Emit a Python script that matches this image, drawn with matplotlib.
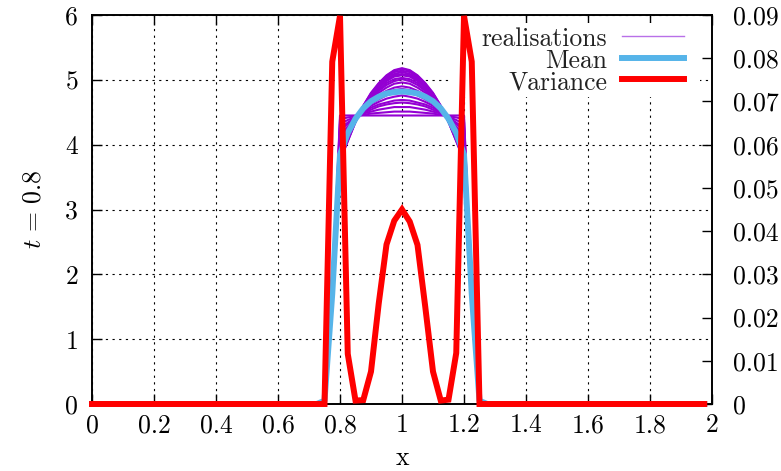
import matplotlib
matplotlib.use("Agg")
import matplotlib.pyplot as plt
import numpy as np

plt.rcParams['font.family'] = 'cmr10'
plt.rcParams['mathtext.fontset'] = 'cm'
plt.rcParams['axes.formatter.use_mathtext'] = True

# grid of the solution, only the pulse region (0.75 .. 1.25) is non zero
x = np.linspace(0.0, 1.975, 80)
i0 = 30  # index of x = 0.75

realisations = [
    [0.05, 1.7, 4.45, 4.45, 4.45, 4.45, 4.45, 4.45, 4.45, 4.45, 4.45, 4.45, 4.45, 4.45, 4.45, 4.45, 4.45, 4.45, 4.45, 1.7, 0.05],
    [0.05, 1.7, 4.39, 4.42, 4.44, 4.46, 4.48, 4.49, 4.50, 4.51, 4.51, 4.51, 4.50, 4.49, 4.48, 4.46, 4.44, 4.42, 4.39, 1.7, 0.05],
    [0.05, 1.7, 4.32, 4.38, 4.43, 4.48, 4.51, 4.54, 4.56, 4.58, 4.58, 4.58, 4.56, 4.54, 4.51, 4.48, 4.43, 4.38, 4.32, 1.7, 0.05],
    [0.05, 1.7, 4.26, 4.34, 4.42, 4.49, 4.54, 4.59, 4.62, 4.64, 4.65, 4.64, 4.62, 4.59, 4.54, 4.49, 4.42, 4.34, 4.26, 1.7, 0.05],
    [0.05, 1.7, 4.22, 4.32, 4.42, 4.50, 4.57, 4.62, 4.65, 4.68, 4.69, 4.68, 4.65, 4.62, 4.57, 4.50, 4.42, 4.32, 4.22, 1.7, 0.05],
    [0.05, 1.7, 4.16, 4.28, 4.41, 4.51, 4.60, 4.66, 4.71, 4.74, 4.76, 4.74, 4.71, 4.66, 4.60, 4.51, 4.41, 4.28, 4.16, 1.7, 0.05],
    [0.05, 1.7, 4.10, 4.25, 4.40, 4.53, 4.63, 4.70, 4.76, 4.80, 4.82, 4.80, 4.76, 4.70, 4.63, 4.53, 4.40, 4.25, 4.10, 1.7, 0.05],
    [0.05, 1.7, 4.06, 4.23, 4.39, 4.53, 4.65, 4.73, 4.80, 4.84, 4.86, 4.84, 4.80, 4.73, 4.65, 4.53, 4.39, 4.23, 4.06, 1.7, 0.05],
    [0.05, 1.7, 4.02, 4.20, 4.39, 4.54, 4.67, 4.76, 4.83, 4.88, 4.90, 4.88, 4.83, 4.76, 4.67, 4.54, 4.39, 4.20, 4.02, 1.7, 0.05],
    [0.05, 1.7, 3.96, 4.17, 4.38, 4.56, 4.70, 4.80, 4.88, 4.94, 4.96, 4.94, 4.88, 4.80, 4.70, 4.56, 4.38, 4.17, 3.96, 1.7, 0.05],
    [0.05, 1.7, 3.92, 4.15, 4.37, 4.56, 4.72, 4.83, 4.92, 4.98, 5.01, 4.98, 4.92, 4.83, 4.72, 4.56, 4.37, 4.15, 3.92, 1.7, 0.05],
    [0.05, 1.7, 3.89, 4.13, 4.37, 4.57, 4.73, 4.85, 4.95, 5.01, 5.03, 5.01, 4.95, 4.85, 4.73, 4.57, 4.37, 4.13, 3.89, 1.7, 0.05],
    [0.05, 1.7, 3.86, 4.11, 4.37, 4.58, 4.75, 4.88, 4.98, 5.05, 5.07, 5.05, 4.98, 4.88, 4.75, 4.58, 4.37, 4.11, 3.86, 1.7, 0.05],
    [0.05, 1.7, 3.83, 4.10, 4.36, 4.58, 4.76, 4.89, 5.00, 5.07, 5.09, 5.07, 5.00, 4.89, 4.76, 4.58, 4.36, 4.10, 3.83, 1.7, 0.05],
    [0.05, 1.7, 3.81, 4.08, 4.36, 4.59, 4.77, 4.91, 5.02, 5.09, 5.12, 5.09, 5.02, 4.91, 4.77, 4.59, 4.36, 4.08, 3.81, 1.7, 0.05],
    [0.05, 1.7, 3.79, 4.07, 4.36, 4.59, 4.78, 4.93, 5.04, 5.12, 5.14, 5.12, 5.04, 4.93, 4.78, 4.59, 4.36, 4.07, 3.79, 1.7, 0.05],
    [0.05, 1.7, 3.76, 4.06, 4.35, 4.60, 4.79, 4.94, 5.06, 5.14, 5.17, 5.14, 5.06, 4.94, 4.79, 4.60, 4.35, 4.06, 3.76, 1.7, 0.05],
    [0.05, 1.7, 3.75, 4.05, 4.35, 4.60, 4.80, 4.95, 5.07, 5.15, 5.18, 5.15, 5.07, 4.95, 4.80, 4.60, 4.35, 4.05, 3.75, 1.7, 0.05],
]
mean = [0.05, 1.7, 3.85, 4.18, 4.40, 4.56, 4.67, 4.74, 4.79, 4.81, 4.82, 4.81, 4.79, 4.74, 4.67, 4.56, 4.40, 4.18, 3.85, 1.7, 0.05]
variance = [0.0, 0.0792, 0.0898, 0.0116, 0.0008, 0.0009, 0.0075, 0.0233, 0.0369, 0.0424, 0.0450,
            0.0422, 0.0368, 0.0225, 0.0075, 0.0008, 0.0010, 0.0118, 0.0898, 0.0792, 0.0]

xticks = [0, 0.2, 0.4, 0.6, 0.8, 1, 1.2, 1.4, 1.6, 1.8, 2]
xticklabels = ['0', '0.2', '0.4', '0.6', '0.8', '1', '1.2', '1.4', '1.6', '1.8', '2']
yticks = [0, 1, 2, 3, 4, 5, 6]
y2ticks = [0, 0.01, 0.02, 0.03, 0.04, 0.05, 0.06, 0.07, 0.08, 0.09]
y2ticklabels = ['0', '0.01', '0.02', '0.03', '0.04', '0.05', '0.06', '0.07', '0.08', '0.09']

def full(seg):
    y = np.zeros(len(x))
    y[i0:i0 + len(seg)] = seg
    return y

purple = '#9400d3'
blue = '#56b4e9'
red = '#ff0000'
fs = 18.5

fig = plt.figure(figsize=(7.81, 4.71), dpi=100)
ax = fig.add_axes([92 / 781, 1 - 404 / 471, 620 / 781, 389 / 471])
ax.set_axisbelow(True)

for r in realisations:
    ax.plot(x, full(r), color=purple, lw=1.5, zorder=2, clip_on=False)
ax.plot(x, full(mean), color=blue, lw=4.3, zorder=3, clip_on=False)

ax.set_xlim(0, 2)
ax.set_ylim(0, 6)
ax.set_xticks(xticks)
ax.set_xticklabels(xticklabels)
ax.set_yticks(yticks)
ax.set_yticklabels([str(v) for v in yticks])
ax.tick_params(direction='in', length=7, width=1, top=True, right=True,
               labelsize=fs, color='black')
ax.tick_params(axis='y', pad=10)
ax.tick_params(axis='x', pad=7)
ax.grid(True, color='black', lw=0.8, linestyle=(0, (2, 4)))
for s in ax.spines.values():
    s.set_linewidth(1.2)

ax.set_xlabel('x', fontsize=fs, labelpad=6)
ax.set_ylabel(r'$t\,=\,0.8$', fontsize=fs, labelpad=14)

# opaque key box
ax.add_patch(plt.Rectangle(((450 - 92) / 620, (404 - 97) / 389), (700 - 450) / 620, 74 / 389,
                           transform=ax.transAxes, facecolor='white', edgecolor='none', zorder=1))

ax2 = ax.twinx()
ax2.plot(x, full(variance), color=red, lw=4.3, zorder=4, clip_on=False, solid_joinstyle='miter')
ax2.set_ylim(0, 0.09)
ax2.set_yticks(y2ticks)
ax2.set_yticklabels(y2ticklabels)
ax2.tick_params(direction='in', length=7, width=1, labelsize=fs, pad=15)
for s in ax2.spines.values():
    s.set_linewidth(1.2)

# key
names = ['realisations', 'Mean', 'Variance']
colors = ['#b870e8', blue, red]
widths = [1.0, 4.3, 4.3]
text_base = [46, 68.3, 90]
line_y = [35.7, 57.7, 79.3]
for n, c, w, tb, ly in zip(names, colors, widths, text_base, line_y):
    ax2.text((607 - 92) / 620, (404 - tb) / 389, n, transform=ax.transAxes,
             ha='right', va='baseline', fontsize=fs, color='#222222', zorder=6)
    ax2.plot([(622 - 92) / 620, (684 - 92) / 620], [(404 - ly) / 389] * 2,
             transform=ax.transAxes, color=c, lw=w, zorder=6, clip_on=False)

fig.savefig('out.png', dpi=100)
